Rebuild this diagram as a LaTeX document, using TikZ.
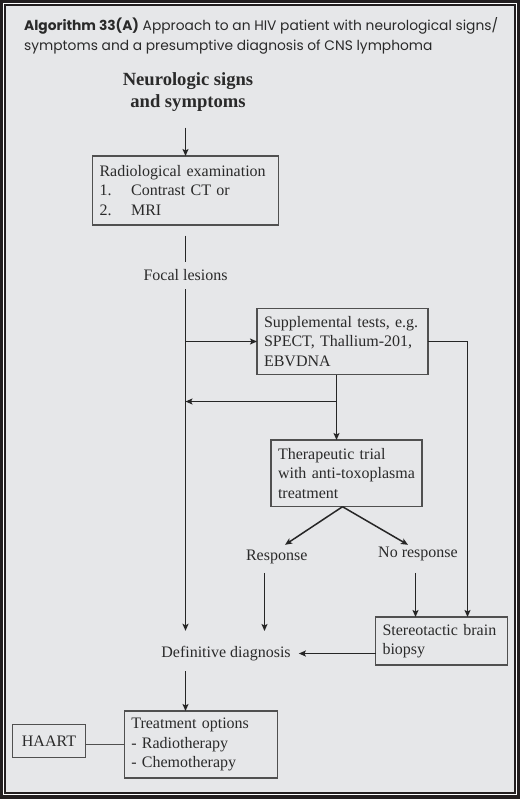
\documentclass[tikz,border=0pt]{standalone}
\usepackage{fontspec}
\setmainfont{Liberation Serif}
\newfontfamily\titlefont{Poppins}
\usetikzlibrary{arrows.meta,calc}
\definecolor{bg}{HTML}{E6E7E9}
\definecolor{framec}{HTML}{231F20}
\definecolor{ink}{HTML}{2A2A2A}
\definecolor{boxline}{HTML}{505050}
\definecolor{linec}{HTML}{262626}
\begin{document}
\begin{tikzpicture}[x=1pt,y=-1pt,
  every node/.style={text=ink},
  body/.style={font=\fontsize{16}{19.6}\selectfont},
  box/.style={draw=boxline, line width=1.3pt, body, align=left, anchor=north west, inner xsep=7pt, inner ysep=0pt, outer sep=0pt},
  lbl/.style={body, inner sep=0pt, text height=11pt, text depth=4pt},
  conn/.style={draw=linec, line width=1.5pt},
  arr/.style={conn, -{Stealth[length=7pt,width=6pt,inset=1.5pt]}},
  titletext/.style={font=\titlefont\fontsize{13.8}{19.4}\selectfont, align=left, inner sep=0pt, anchor=north west},
  head/.style={font=\bfseries\fontsize{18.6}{21.7}\selectfont, align=center, inner sep=0pt}
]
\useasboundingbox (0,0) rectangle (520,799);
\fill[framec] (0,0) rectangle (520,799);
\fill[white] (3,3) rectangle (517,795.3);
\fill[framec] (4,4) rectangle (516,794.3);
\fill[bg] (6,6) rectangle (514.3,791.7);

\node[titletext] (title) at (24,17.5) {\textbf{Algorithm 33(A)} Approach to an HIV patient with neurological signs/\\symptoms and a presumptive diagnosis of CNS lymphoma};

\node[head] (neuro) at (188,92) {Neurologic signs\\and symptoms};

\node[box, minimum width=186, minimum height=69, text width=172] (radio) at (92.5,156)
  {Radiological examination\\\makebox[31.6pt][l]{1.}Contrast CT or\\\makebox[31.6pt][l]{2.}MRI};
\node[lbl] (focal) at (185.5,276.5) {Focal lesions};
\node[box, minimum width=171, minimum height=66, text width=157] (supp) at (257,308.5)
  {Supplemental tests, e.g.\\SPECT, Thallium-201,\\EBVDNA};
\node[box, minimum width=151, minimum height=66.7, text width=137] (therap) at (271,440)
  {Therapeutic trial\\with anti-toxoplasma\\treatment};
\node[lbl] (resp) at (276.7,557) {Response};
\node[lbl] (noresp) at (418,553.5) {No response};
\node[box, minimum width=132, minimum height=48, text width=118] (stereo) at (375.5,617)
  {Stereotactic brain\\biopsy};
\node[lbl] (diag) at (226,653.5) {Definitive diagnosis};
\node[box, minimum width=153, minimum height=67, text width=139] (treat) at (124.3,711)
  {Treatment options\\- Radiotherapy\\- Chemotherapy};
\node[box, align=center, minimum width=73.4, minimum height=33, text width=59.4] (haart) at (12.3,724.3) {HAART};

% connectors
\draw[arr, shorten <=16pt] (radio.north |- neuro.south) -- (radio.north);
\draw[conn, shorten <=10.7pt, shorten >=7pt] (radio.south) -- (focal.north);
\draw[arr, shorten <=5pt, shorten >=15pt] (focal.south) -- (focal.south |- diag.north);
\draw[arr] (focal.south |- supp.west) -- (supp.west);
\draw[arr] (supp.east) -| ([xshift=26pt]stereo.north);
\coordinate (sb) at ([xshift=-6pt]supp.south);
\coordinate (sj) at ($(sb)+(0,27)$);
\draw[arr] (sb) -- (sb |- therap.north);
\draw[arr] (sj) -- (sj -| focal.south);
\coordinate (ts) at ([xshift=-4pt]therap.south);
\draw[arr] (ts) -- ([xshift=8.3pt,yshift=4.5pt]resp.north);
\draw[arr] (ts) -- ([xshift=-10pt,yshift=1pt]noresp.north);
\coordinate (ra) at ([xshift=-12.2pt,yshift=-8.2pt]resp.south);
\draw[arr, shorten >=14.8pt] (ra) -- (ra |- diag.north);
\coordinate (na) at ([xshift=-2.5pt,yshift=-11.7pt]noresp.south);
\draw[arr] (na) -- (na |- stereo.north);
\draw[arr, shorten >=8pt] (stereo.west |- diag.east) -- (diag.east);
\draw[arr, shorten <=10.2pt] (focal.south |- diag.south) -- (focal.south |- treat.north);
\draw[conn, draw=boxline, line width=1.2pt] (haart.east |- treat.west) -- (treat.west);
\end{tikzpicture}
\end{document}
